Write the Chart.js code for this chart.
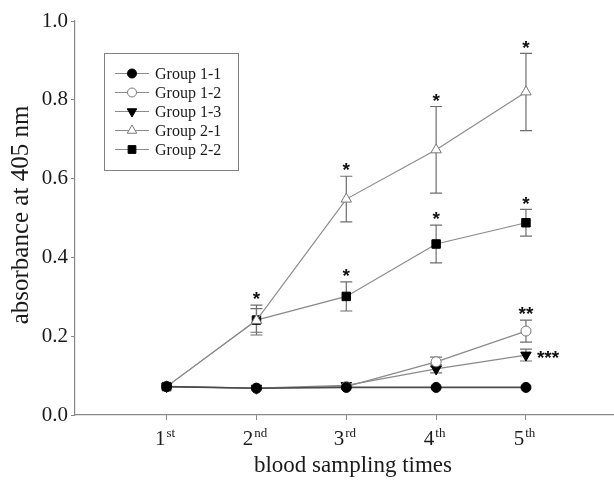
<!DOCTYPE html>
<html><head><meta charset="utf-8">
<script src="https://cdn.jsdelivr.net/npm/chart.js@4/dist/chart.umd.min.js"></script>
<style>html,body{margin:0;padding:0;background:#fff}#wrap{width:614px;height:480px}</style>
</head><body><div id="wrap"><canvas id="c" width="614" height="480"></canvas></div>
<script>
// ---- data ----
const categories = [1, 2, 3, 4, 5];
const tickLabels = ['1', '2', '3', '4', '5'];
const tickSuffixes = ['st', 'nd', 'rd', 'th', 'th'];
const seriesNames = ['Group 1-1', 'Group 1-2', 'Group 1-3', 'Group 2-1', 'Group 2-2'];
const g11 = [0.072, 0.068, 0.070, 0.070, 0.070];
const g12 = [0.072, 0.068, 0.072, 0.135, 0.213];
const g13 = [0.072, 0.068, 0.075, 0.117, 0.152];
const g21 = [0.072, 0.240, 0.548, 0.673, 0.820];
const g22 = [0.072, 0.241, 0.301, 0.434, 0.488];
const g11Err = [0, 0, 0, 0, 0];
const g12Err = [0, 0, 0, 0.012, 0.028];
const g13Err = [0, 0, 0, 0.010, 0.015];
const g21Err = [0, 0.030, 0.058, 0.110, 0.098];
const g22Err = [0, 0.038, 0.037, 0.048, 0.034];
const yTickValues = [0, 0.2, 0.4, 0.6, 0.8, 1.0];
const xTitle = 'blood sampling times';
const yTitle = 'absorbance at 405 nm';
// significance marks: series index, point index, text
const sigSeries = [4, 3, 4, 3, 4, 3, 4, 1, 2];
const sigPoints = [1, 2, 2, 3, 3, 4, 4, 4, 4];
const sigTexts  = ['*', '*', '*', '*', '*', '*', '*', '**', '***'];
const sigBeside = [false, false, false, false, false, false, false, false, true];

const values = [g11, g12, g13, g21, g22];
const errors = [g11Err, g12Err, g13Err, g21Err, g22Err];

const LINE = '#8a8a8a';
const SERIF = '"Liberation Serif", "Times New Roman", serif';
const styles = [
  {pointStyle: 'circle', bg: '#000', bd: '#000', r: 5, rot: 0, line: '#4a4a4a'},
  {pointStyle: 'circle', bg: '#fff', bd: '#777', r: 5, rot: 0, line: LINE},
  {pointStyle: 'triangle', bg: '#000', bd: '#000', r: 6, rot: 180, line: LINE},
  {pointStyle: 'triangle', bg: '#fff', bd: '#777', r: 6, rot: 0, line: LINE},
  {pointStyle: 'rect', bg: '#000', bd: '#000', r: 6, rot: 0, line: LINE}
];

const datasets = seriesNames.map((name, i) => ({
  label: name,
  data: categories.map((c, j) => ({x: c, y: values[i][j]})),
  borderColor: styles[i].line,
  borderWidth: i === 0 ? 1.6 : 1.2,
  pointStyle: styles[i].pointStyle,
  pointRadius: styles[i].r,
  pointRotation: styles[i].rot,
  pointBackgroundColor: styles[i].bg,
  pointBorderColor: styles[i].bd,
  pointBorderWidth: 1,
  fill: false,
  tension: 0
}));

const customPlugin = {
  id: 'custom',
  afterLayout(chart) {
    // stretch the plot area to the right edge of the canvas
    const W = chart.width;
    const xs = chart.scales.x;
    if (chart.chartArea.right < W) {
      chart.chartArea.right = W;
      chart.chartArea.width = W - chart.chartArea.left;
      xs.right = W;
      xs.width = W - xs.left;
      xs.configure();
    }
  },
  beforeDatasetsDraw(chart) {
    const ctx = chart.ctx, xs = chart.scales.x, ys = chart.scales.y;
    ctx.save();
    ctx.strokeStyle = '#6e6e6e';
    ctx.lineWidth = 1.2;
    errors.forEach((errs, i) => {
      errs.forEach((e, j) => {
        if (!e) return;
        const x = xs.getPixelForValue(categories[j]);
        const yt = ys.getPixelForValue(values[i][j] + e);
        const yb = ys.getPixelForValue(values[i][j] - e);
        ctx.beginPath();
        ctx.moveTo(x, yt); ctx.lineTo(x, yb);
        ctx.moveTo(x - 6, yt); ctx.lineTo(x + 6, yt);
        ctx.moveTo(x - 6, yb); ctx.lineTo(x + 6, yb);
        ctx.stroke();
      });
    });
    ctx.restore();
  },
  afterDraw(chart) {
    const ctx = chart.ctx, xs = chart.scales.x, ys = chart.scales.y;
    ctx.save();
    // x tick labels with superscripts
    ctx.fillStyle = '#1a1a1a';
    ctx.textBaseline = 'alphabetic';
    categories.forEach((c, j) => {
      const x = xs.getPixelForValue(c);
      ctx.font = '21px ' + SERIF;
      const w1 = ctx.measureText(tickLabels[j]).width;
      ctx.font = '13px ' + SERIF;
      const w2 = ctx.measureText(tickSuffixes[j]).width;
      const start = x - (w1 + w2) / 2 - 2;
      ctx.font = '21px ' + SERIF;
      ctx.textAlign = 'left';
      ctx.fillText(tickLabels[j], start, 445);
      ctx.font = '13px ' + SERIF;
      ctx.fillText(tickSuffixes[j], start + w1 + 1, 437);
    });
    // x title
    ctx.font = '23px ' + SERIF;
    ctx.textAlign = 'center';
    ctx.textBaseline = 'alphabetic';
    ctx.fillText(xTitle, 353, 472);
    // y title
    ctx.save();
    ctx.translate(21, 215);
    ctx.rotate(-Math.PI / 2);
    ctx.font = '25px ' + SERIF;
    ctx.textAlign = 'center';
    ctx.textBaseline = 'middle';
    ctx.fillText(yTitle, 0, 0);
    ctx.restore();
    // significance marks
    ctx.fillStyle = '#111';
    ctx.font = 'bold 19px "Liberation Sans", Arial, sans-serif';
    ctx.textBaseline = 'middle';
    sigTexts.forEach((t, k) => {
      const i = sigSeries[k], j = sigPoints[k];
      const x = xs.getPixelForValue(categories[j]);
      if (sigBeside[k]) {
        ctx.textAlign = 'left';
        ctx.fillText(t, x + 11, ys.getPixelForValue(values[i][j]) + 4);
      } else {
        ctx.textAlign = 'center';
        ctx.fillText(t, x, ys.getPixelForValue(values[i][j] + errors[i][j]) - 5);
      }
    });
    // legend
    const bx = 104.5, by = 53.5, bw = 134, bh = 117;
    ctx.strokeStyle = '#808080';
    ctx.lineWidth = 1;
    ctx.strokeRect(bx, by, bw, bh);
    ctx.font = '16px ' + SERIF;
    ctx.textAlign = 'left';
    ctx.textBaseline = 'middle';
    chart.data.datasets.forEach((ds, i) => {
      const y = 73.5 + i * 19;
      ctx.strokeStyle = LINE;
      ctx.lineWidth = 1.2;
      ctx.beginPath(); ctx.moveTo(115, y); ctx.lineTo(149, y); ctx.stroke();
      ctx.fillStyle = ds.pointBackgroundColor;
      ctx.strokeStyle = ds.pointBorderColor;
      ctx.lineWidth = 1;
      Chart.helpers.drawPoint(ctx, {
        pointStyle: ds.pointStyle, radius: ds.pointRadius - 0.5, rotation: ds.pointRotation,
        borderWidth: 1
      }, 132, y);
      ctx.fillStyle = '#1a1a1a';
      ctx.fillText(ds.label, 155, y + 1);
    });
    ctx.restore();
  }
};

new Chart(document.getElementById('c'), {
  type: 'line',
  data: {datasets},
  options: {
    responsive: false,
    devicePixelRatio: 1,
    animation: false,
    layout: {padding: {top: 21, right: 0, left: 0, bottom: 0}},
    plugins: {legend: {display: false}, tooltip: {enabled: false}},
    scales: {
      x: {
        type: 'linear', min: -0.02, max: 5.98,
        afterBuildTicks: s => { s.ticks = categories.map(v => ({value: v})); },
        afterFit: s => { s.height = 65; s.paddingRight = 0; s.paddingLeft = 0; },
        grid: {drawOnChartArea: false, drawTicks: true, tickLength: 5, color: '#888'},
        border: {color: '#888', width: 1.2},
        ticks: {callback: () => '', padding: 0},
        title: {display: false, text: xTitle}
      },
      y: {
        min: 0, max: 1,
        afterBuildTicks: s => { s.ticks = yTickValues.map(v => ({value: v})); },
        afterFit: s => { s.width = 75; },
        grid: {drawOnChartArea: false, drawTicks: true, tickLength: 4, color: '#888'},
        border: {color: '#888', width: 1.2},
        ticks: {callback: v => Number(v).toFixed(1), color: '#1a1a1a', font: {family: SERIF, size: 21}, padding: 3}
      }
    }
  },
  plugins: [customPlugin]
});
</script></body></html>
